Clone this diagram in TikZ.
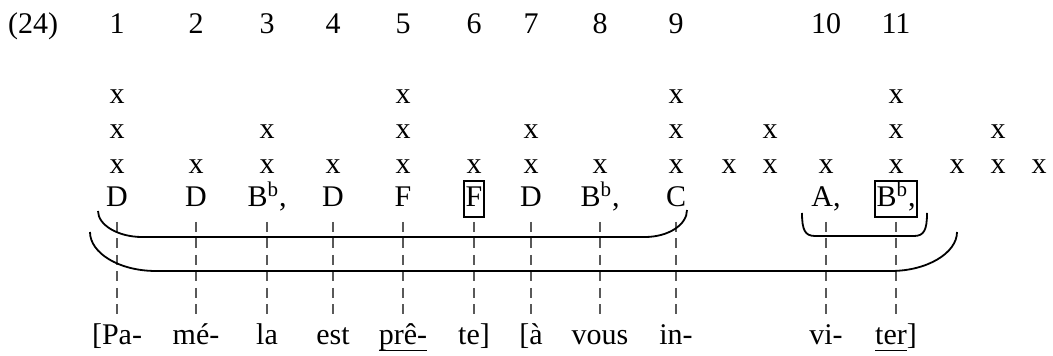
\documentclass[tikz,border=0pt]{standalone}
\usepackage{fontspec}
\setmainfont{Liberation Serif}
\usepackage{tikz}
\usetikzlibrary{positioning,calc}
\newcommand{\undl}[1]{\setbox0=\hbox{#1}\rlap{\rule[-2.9pt]{\wd0}{0.6pt}}\box0}
\newcommand{\Bflat}{B\textsuperscript{b},}

\begin{document}
\begin{tikzpicture}[
  x=0.5pt, y=-0.5pt,
  every node/.style={font=\fontsize{15}{18}\selectfont, inner sep=0pt, anchor=base},
  gridx/.style={},
  tone/.style={inner xsep=0.8pt, inner ysep=1pt, text height=12pt, text depth=4pt},
  tonebox/.style={tone, draw, line width=0.9pt},
  syl/.style={},
  assoc/.style={dash pattern=on 5pt off 3.25pt, line width=0.55pt, black!65, shorten <=7.5pt, shorten >=15pt},
  bracket/.style={line width=0.9pt},
]
\useasboundingbox (0,0) rectangle (1053,356);
\node (ex) at (33,34) {(24)};
\foreach \x [count=\i] in {117,196,267,333,403,474,531,600,676,826,896}
  \node (n\i) at (\x,34) {\i};
\foreach \x/\h [count=\k] in {117/3,196/1,267/2,333/1,403/3,474/1,531/2,600/1,676/3,729/1,770/2,826/1,896/3,957/1,998/2,1039/1}
  \foreach \r in {1,...,\h}
    \node[gridx] (m\k-\r) at (\x,{174-35*(\r-1)}) {x};
\foreach \x/\t/\s [count=\i] in {117/D/tone,196/D/tone,267/\Bflat/tone,333/D/tone,403/F/tone,474/F/tonebox,531/D/tone,600/\Bflat/tone,676/C/tone,826/{A,}/tone,896/\Bflat/tonebox}
  \node[\s] (l\i) at (\x,207) {\t};
\foreach \x/\t [count=\i] in {117/{[Pa-},196/{mé-},267/{la},333/{est},403/{\undl{prê-}},474/{te]},531/{[à},600/{vous},676/{in-},826/{vi-},896/{\undl{ter}]}}
  \node[syl] (s\i) at (\x,345) {\t};
\foreach \i in {1,...,11}
  \draw[assoc] (l\i.base) -- (s\i.base);
\draw[bracket] (98,211) .. controls (98,225) and (118,237) .. (142,237) -- (645,237) .. controls (668,237) and (687,225) .. (687,210);
\draw[bracket] (90,232) .. controls (90,253) and (119,271) .. (156,271) -- (891,271) .. controls (927,271) and (957,253) .. (957,232);
\draw[bracket] (802,213) .. controls (802,230) and (805,236) .. (815,236) -- (914,236) .. controls (924,236) and (927,230) .. (927,213);
\end{tikzpicture}
\end{document}
